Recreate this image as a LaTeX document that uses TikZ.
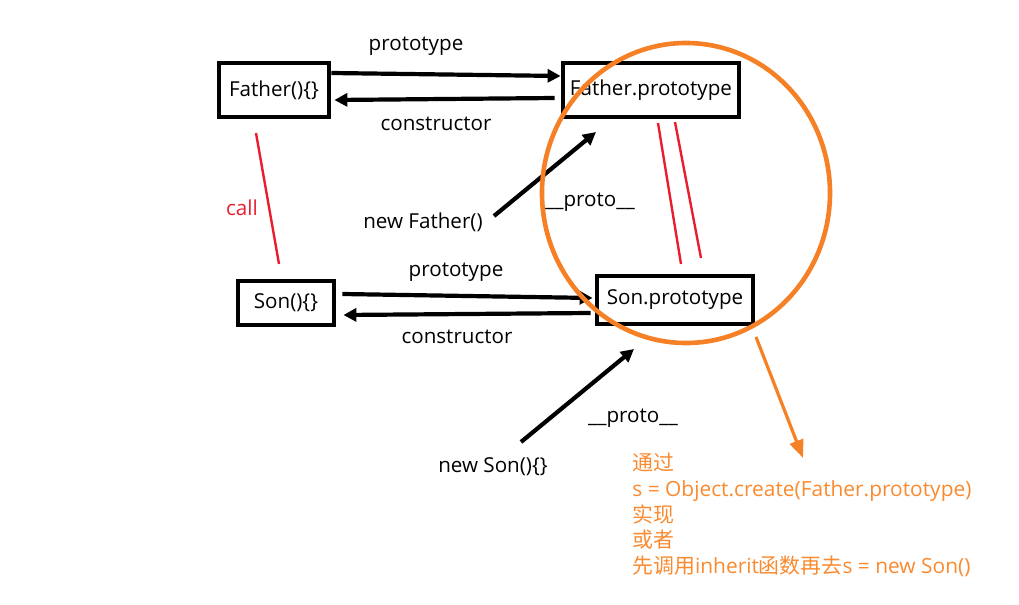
\documentclass[tikz,border=0pt]{standalone}
\usepackage{fontspec}
\setmainfont{Open Sans}
\newfontfamily\cjk{Noto Sans CJK SC}
\usetikzlibrary{arrows.meta,calc}
\definecolor{ringorange}{RGB}{245,128,38}
\definecolor{noteorange}{RGB}{250,138,48}
\definecolor{callred}{RGB}{232,30,45}

\begin{document}
\begin{tikzpicture}[x=0.5pt,y=-0.5pt,
    objbox/.style={draw,line width=2.4pt,inner sep=0pt,font=\fontsize{10.3}{12}\selectfont},
    link/.style={line width=2.1pt,-{Triangle[length=6.5pt,width=6.5pt]}},
    lbl/.style={font=\fontsize{10.3}{12}\selectfont,inner sep=0pt},
    redline/.style={callred,line width=1.2pt}]
   \useasboundingbox (0,0) rectangle (1019,605);

   % the four objects
   \node[objbox,minimum width=55pt,minimum height=27pt] (father) at (274,90) {Father()\{\}};
   \node[objbox,minimum width=88pt,minimum height=27pt] (fproto) at (651,90) {Father.prototype};
   \node[objbox,minimum width=48pt,minimum height=22pt] (son) at (286,303) {Son()\{\}};
   \node[objbox,minimum width=78pt,minimum height=24pt] (sproto) at (675,300) {Son.prototype};

   % Father <-> Father.prototype
   \draw[link] ($(father.east)+(0,-17)$) -- ($(fproto.west)+(0,-14)$);
   \draw[link] ($(fproto.west)+(-6,8)$) -- ($(father.east)+(3,10)$);
   \node[lbl] (ftoplbl) at (416,46) {prototype};
   \node[lbl] (fbotlbl) at (436,124) {constructor};

   % Son <-> Son.prototype
   \draw[link] ($(son.east)+(6,-9)$) -- ($(sproto.west)+(-2,-2)$);
   \draw[link] ($(sproto.west)+(-4,13)$) -- ($(son.east)+(7,12)$);
   \node[lbl] (stoplbl) at (456,272) {prototype};
   \node[lbl] (sbotlbl) at (457,337) {constructor};

   % call
   \coordinate (calla) at (256,133);
   \coordinate (callb) at (279,264);
   \draw[redline] (calla) -- (callb);
   \node[lbl,callred] (calllbl) at (242,208) {call};

   % Son.prototype.__proto__ = Father.prototype
   \coordinate (pa) at (658,123);
   \coordinate (pb) at (681,264);
   \coordinate (qa) at (675,122);
   \coordinate (qb) at (701,258);
   \draw[redline] (pa) -- (pb);
   \draw[redline] (qa) -- (qb);

   % instances
   \coordinate (nfa) at (494,216);
   \coordinate (nfb) at (596,132);
   \draw[link] (nfa) -- (nfb);
   \node[lbl] (nflbl) at (423,222) {new Father()};
   \node[lbl] (fplbl) at (590,202) {\_\_proto\_\_};

   \coordinate (nsa) at (521,442);
   \coordinate (nsb) at (634,349);
   \draw[link] (nsa) -- (nsb);
   \node[lbl] (nslbl) at (493,467) {new Son()\{\}};
   \node[lbl] (splbl) at (633,418) {\_\_proto\_\_};

   % ring and note
   \draw[ringorange,line width=2.3pt] (686,193) ellipse [x radius=144, y radius=150];
   \coordinate (notea) at (756,337);
   \coordinate (noteb) at (803,458);
   \draw[ringorange,line width=1.6pt,-{Triangle[length=9pt,width=7pt]}] (notea) -- (noteb);
   \node[lbl,noteorange,anchor=north west,align=left,
         font=\fontsize{10.45}{12.85}\selectfont] (note) at (632,453)
     {{\cjk 通过}\\
      s = Object.create(Father.prototype)\\
      {\cjk 实现}\\
      {\cjk 或者}\\
      {\cjk 先调用}inherit{\cjk 函数再去}s = new Son()};
\end{tikzpicture}
\end{document}
